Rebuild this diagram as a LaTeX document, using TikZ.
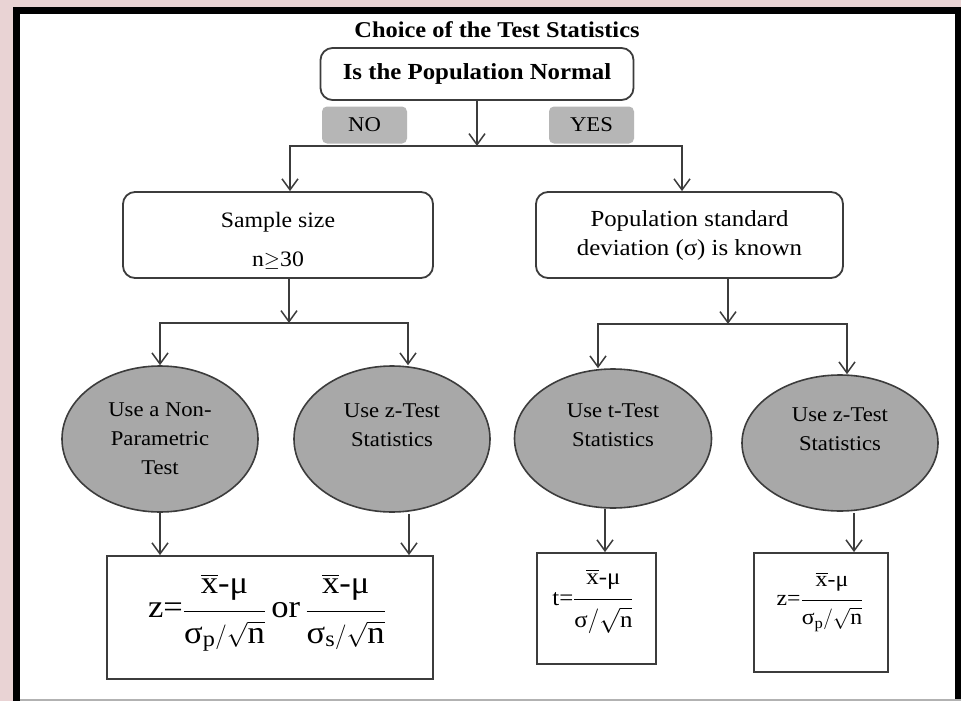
\documentclass[tikz,border=0pt]{standalone}
\usepackage{amsmath}
\usepackage{fontspec}
\setmainfont[FakeStretch=1.08]{Liberation Serif}
\usetikzlibrary{arrows.meta,shapes.geometric,calc}
\definecolor{pinkbg}{RGB}{233,211,212}
\definecolor{ln}{RGB}{60,60,60}
\definecolor{ellfill}{RGB}{168,168,168}
\definecolor{lblfill}{RGB}{182,182,182}
\newcommand{\fsz}[2]{\fontsize{#1}{#2}\selectfont}
\newcommand{\xbar}{\overline{\text{x}}}
\newcommand{\numr}[2]{\raisebox{#1}[\height][\depth]{$#2$}}
\begin{document}
\begin{tikzpicture}[x=1pt,y=-1pt,
  arr/.style={draw=ln,line width=1.6pt,-{Straight Barb[length=11pt,width=16pt,line width=1.5pt]}},
  rbox/.style={draw=ln,line width=1.8pt,rounded corners=12pt,fill=white,inner sep=0pt,align=center,font=\fsz{23}{29}},
  txt/.style={inner sep=0pt,align=center,font=\fsz{22}{29}},
  lbl/.style={fill=lblfill,rounded corners=5pt,minimum width=85pt,minimum height=37pt,inner sep=0pt,font=\fsz{21}{24}},
  ell/.style={ellipse,draw=ln,line width=1.6pt,fill=ellfill,inner sep=0pt,align=center,font=\fsz{21}{29}},
  fbox/.style={draw=ln,line width=1.8pt,fill=white,inner sep=0pt}]
\useasboundingbox (0,0) rectangle (961,701);
\fill[pinkbg] (0,0) rectangle (961,701);
\fill[black] (13,7) rectangle (961,701);
\fill[white] (20,14) rectangle (955,699);
\fill[gray!60] (20,699) rectangle (961,701);

\node[font=\fsz{22.6}{24}\bfseries] (title) at (497,30) {Choice of the Test Statistics};
\node[rbox,minimum width=313pt,minimum height=52pt,font=\fsz{23}{24}\bfseries] (q) at (477,74) {Is the Population Normal};
\node[lbl] (no) at (364.5,125) {NO};
\node[lbl] (yes) at (591.5,125) {YES};

\node[rbox,minimum width=310pt,minimum height=86pt] (ss) at (278,235) {};
\node[txt] (sst) at (278,241) {Sample size\\[10pt]n$\geq$30};
\node[rbox,minimum width=307pt,minimum height=86pt] (psd) at (689.5,235) {Population standard\\deviation (σ) is known};

\node[ell,minimum width=196pt,minimum height=146pt] (e1) at (160,439) {Use a Non-\\Parametric\\Test};
\node[ell,minimum width=196pt,minimum height=146pt] (e2) at (392,439) {Use z-Test\\Statistics\\[-10pt]\strut};
\node[ell,minimum width=197pt,minimum height=139pt] (e3) at (613,438.5) {Use t-Test\\Statistics\\[-10pt]\strut};
\node[ell,minimum width=196pt,minimum height=136pt] (e4) at (840,443) {Use z-Test\\Statistics\\[-10pt]\strut};

\node[fbox,minimum width=326pt,minimum height=123pt] (f1) at (270,617.5) {};
\node[fbox,minimum width=119pt,minimum height=111pt] (f2) at (596.5,608.5) {};
\node[fbox,minimum width=134pt,minimum height=119pt] (f3) at (821,612.5) {};

\node[font=\fsz{32}{36},inner sep=0pt] (f1t) at (267,610) {z=$\dfrac{\numr{7pt}{\xbar\text{-μ}}}{\numr{-6pt}{\text{σ}_{\text{p}}/\sqrt{\text{n}}}}$\,or\,$\dfrac{\numr{7pt}{\xbar\text{-μ}}}{\numr{-6pt}{\text{σ}_{\text{s}}/\sqrt{\text{n}}}}$};
\node[font=\fsz{23}{26},inner sep=0pt] (f2t) at (593,599) {t=$\dfrac{\numr{5pt}{\xbar\text{-μ}}}{\numr{-4pt}{\text{σ}/\sqrt{\text{n}}}}$};
\node[font=\fsz{22}{26},inner sep=0pt] (f3t) at (820,600) {z=$\dfrac{\numr{5pt}{\xbar\text{-μ}}}{\numr{-4pt}{\text{σ}_{\text{p}}/\sqrt{\text{n}}}}$};

% top split
\coordinate (j1) at ($(q.south)+(0,45)$);
\draw[arr] (q.south) -- (j1);
\draw[arr] (j1) -| ([xshift=12pt]ss.north);
\draw[arr] (j1) -| ([xshift=-7.5pt]psd.north);

% left split
\coordinate (j2) at ($([xshift=11pt]ss.south)+(0,44)$);
\draw[arr] ([xshift=11pt]ss.south) -- (j2);
\draw[arr] (j2) -| (e1.north);
\draw[arr] (j2) -| ([xshift=16pt]e2.north);

% right split
\coordinate (j3) at ($([xshift=38.5pt]psd.south)+(0,45)$);
\draw[arr] ([xshift=38.5pt]psd.south) -- (j3);
\draw[arr] (j3) -| ([xshift=-15pt]e3.north);
\draw[arr] (j3) -| ([xshift=7pt]e4.north);

% to formulas
\draw[arr] (e1.south) -- (e1.south |- f1.north);
\draw[arr] ([xshift=17pt,yshift=-1pt]e2.south) -- ([xshift=17pt]e2.south |- f1.north);
\draw[arr] ([xshift=-8pt]e3.south) -- ([xshift=-8pt]e3.south |- f2.north);
\draw[arr] ([xshift=14pt,yshift=-1pt]e4.south) -- ([xshift=14pt]e4.south |- f3.north);
\end{tikzpicture}
\end{document}
